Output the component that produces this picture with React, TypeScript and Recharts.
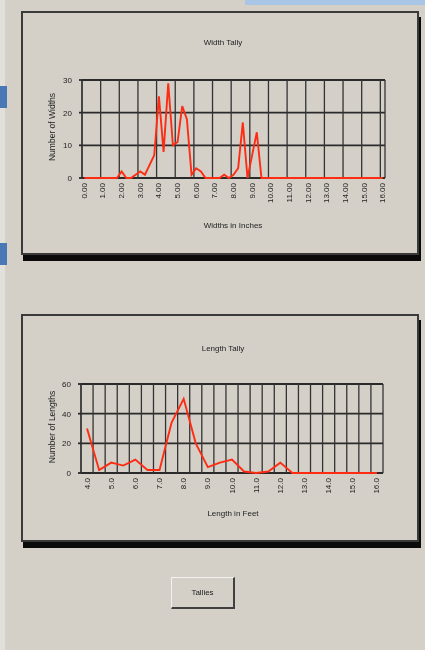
import React from "react"
import { LineChart, Line, XAxis, YAxis, CartesianGrid, ReferenceLine } from "recharts"

// widths in inches (1/4 inch tally bins)
const widthInches = [
  0, 0.25, 0.5, 0.75, 1, 1.25, 1.5, 1.75,
  2, 2.25, 2.5, 2.75, 3, 3.25, 3.5, 3.75,
  4, 4.25, 4.5, 4.75, 5, 5.25, 5.5, 5.75,
  6, 6.25, 6.5, 6.75, 7, 7.25, 7.5, 7.75,
  8, 8.25, 8.5, 8.75, 9, 9.25, 9.5, 9.75,
  10, 10.25, 10.5, 10.75, 11, 11.25, 11.5, 11.75,
  12, 12.25, 12.5, 12.75, 13, 13.25, 13.5, 13.75,
  14, 14.25, 14.5, 14.75, 15, 15.25, 15.5, 15.75,
  16,
]
const widthCounts = [
  0, 0, 0, 0, 0, 0, 0, 0,
  2, 0, 0, 1, 2, 1, 4, 7,
  25, 8, 29, 10, 11, 22, 18, 1,
  3, 2, 0, 0, 0, 0, 1, 0,
  1, 3, 17, 0, 7, 14, 0, 0,
  0, 0, 0, 0, 0, 0, 0, 0,
  0, 0, 0, 0, 0, 0, 0, 0,
  0, 0, 0, 0, 0, 0, 0, 0,
  0,
]
const widthTicks = [0, 1, 2, 3, 4, 5, 6, 7, 8, 9, 10, 11, 12, 13, 14, 15, 16]
const widthYTicks = [0, 10, 20, 30]

// lengths in feet (1/2 foot tally bins)
const lengthFeet = [
  4, 4.5, 5, 5.5, 6, 6.5, 7, 7.5, 8, 8.5, 9, 9.5, 10,
  10.5, 11, 11.5, 12, 12.5, 13, 13.5, 14, 14.5, 15, 15.5, 16,
]
const lengthCounts = [
  30, 2, 7, 5, 9, 2, 2, 34, 50, 20, 4, 7, 9,
  1, 0, 1, 7, 0, 0, 0, 0, 0, 0, 0, 0,
]
const lengthTicks = [4, 5, 6, 7, 8, 9, 10, 11, 12, 13, 14, 15, 16]
const lengthYTicks = [0, 20, 40, 60]

const widthData = widthInches.map((x, i) => ({ x, count: widthCounts[i] }))
const lengthData = lengthFeet.map((x, i) => ({ x, count: lengthCounts[i] }))

// gridlines sit on the bin edges, every 4th bin for widths, every bin for lengths
const widthGridX = widthInches.filter((_, i) => i % 4 === 0).map((w) => w - 0.125)
const lengthGridX = lengthFeet.map((f) => f - 0.25)

const FONT = "'Liberation Sans', Arial, sans-serif"
const BG = "#d4d0c8"
const RED = "#ff2c14"

const RotTick = (props: any) => {
  const { x, y, payload, digits } = props
  return (
    <text
      x={x}
      y={y}
      transform={`rotate(-90 ${x} ${y})`}
      textAnchor="end"
      dominantBaseline="central"
      fontSize={8}
      fontFamily={FONT}
      fill="#222"
    >
      {Number(payload.value).toFixed(digits)}
    </text>
  )
}

const yTickStyle = { fontSize: 8, fill: "#222", fontFamily: FONT }

function Tally(props: {
  data: { x: number; count: number }[]
  domain: [number, number]
  ticks: number[]
  gridX: number[]
  yTicks: number[]
  digits: number
  width: number
  height: number
  margin: { top: number; right: number; bottom: number; left: number }
}) {
  const { data, domain, ticks, gridX, yTicks, digits, width, height, margin } = props
  const yDomain: [number, number] = [yTicks[0], yTicks[yTicks.length - 1]]
  return (
    <LineChart width={width} height={height} data={data} margin={margin}>
      <CartesianGrid vertical={false} stroke="#2a2a2a" strokeWidth={1.8} />
      {gridX.map((g) => (
        <ReferenceLine key={g} x={g} stroke="#333" strokeWidth={1.3} ifOverflow="extendDomain" />
      ))}
      <XAxis
        type="number"
        dataKey="x"
        domain={domain}
        ticks={ticks}
        allowDataOverflow
        interval={0}
        axisLine={false}
        tickLine={false}
        tickSize={0}
        tickMargin={5}
        height={20}
        tick={<RotTick digits={digits} />}
      />
      <YAxis
        domain={yDomain}
        ticks={yTicks}
        width={40}
        tickSize={3}
        tickMargin={7}
        axisLine={{ stroke: "#333", strokeWidth: 1.3 }}
        tickLine={{ stroke: "#2a2a2a", strokeWidth: 1.8 }}
        tick={yTickStyle}
      />
      <YAxis
        yAxisId="r"
        orientation="right"
        domain={yDomain}
        ticks={yTicks}
        width={24}
        tickSize={4}
        tickMargin={1}
        axisLine={{ stroke: "#333", strokeWidth: 1.3 }}
        tickLine={{ stroke: "#2a2a2a", strokeWidth: 1.8 }}
        tick={yTickStyle}
      />
      <Line
        type="linear"
        dataKey="count"
        stroke={RED}
        strokeWidth={1.9}
        dot={false}
        isAnimationActive={false}
      />
    </LineChart>
  )
}

const txt = (left: number, top: number, size: number, rotate = false): React.CSSProperties => ({
  position: "absolute",
  left,
  top,
  transform: `translate(-50%, -50%)${rotate ? " rotate(-90deg)" : ""}`,
  fontSize: size,
  fontFamily: FONT,
  color: "#222",
  whiteSpace: "nowrap",
})

const panel = (top: number, height: number): React.CSSProperties => ({
  position: "absolute",
  left: 21,
  top,
  width: 398,
  height,
  boxSizing: "border-box",
  border: "2px solid #3a3a3a",
  boxShadow: "2px 6px 0 #0b0b0b",
  background: BG,
})

export default function App() {
  return (
    <div
      style={{
        position: "absolute",
        left: 0,
        top: 0,
        width: 425,
        height: 650,
        background: BG,
        overflow: "hidden",
        filter: "blur(0.4px)",
      }}
    >
      <div style={{ position: "absolute", left: 0, top: 0, width: 5, height: 650, background: "#e2e0da" }} />
      <div style={{ position: "absolute", left: 0, top: 86, width: 7, height: 22, background: "#4a78b4" }} />
      <div style={{ position: "absolute", left: 0, top: 243, width: 7, height: 22, background: "#4a78b4" }} />
      <div style={{ position: "absolute", left: 245, top: 0, width: 180, height: 5, background: "#a9c6e6" }} />

      <div style={panel(11, 244)} />
      <div style={{ position: "absolute", left: 21, top: 11 }}>
        <Tally
          data={widthData}
          domain={[-0.125, 16.125]}
          ticks={widthTicks}
          gridX={widthGridX}
          yTicks={widthYTicks}
          digits={2}
          width={398}
          height={244}
          margin={{ top: 69, right: 10, bottom: 57, left: 21 }}
        />
      </div>
      <div style={txt(223, 42, 8)}>Width Tally</div>
      <div style={txt(233, 225, 8)}>Widths in Inches</div>
      <div style={txt(52, 127, 8.5, true)}>Number of Widths</div>

      <div style={panel(314, 228)} />
      <div style={{ position: "absolute", left: 21, top: 314 }}>
        <Tally
          data={lengthData}
          domain={[3.75, 16.25]}
          ticks={lengthTicks}
          gridX={lengthGridX}
          yTicks={lengthYTicks}
          digits={1}
          width={398}
          height={228}
          margin={{ top: 70, right: 12, bottom: 49, left: 20 }}
        />
      </div>
      <div style={txt(223, 348, 8)}>Length Tally</div>
      <div style={txt(233, 513, 8)}>Length in Feet</div>
      <div style={txt(52, 427, 8.5, true)}>Number of Lengths</div>

      <div
        style={{
          position: "absolute",
          left: 171,
          top: 577,
          width: 64,
          height: 32,
          boxSizing: "border-box",
          borderTop: "1px solid #f4f2ee",
          borderLeft: "1px solid #f4f2ee",
          borderRight: "2px solid #404040",
          borderBottom: "2px solid #404040",
          display: "flex",
          alignItems: "center",
          justifyContent: "center",
          fontSize: 8,
          fontFamily: FONT,
          color: "#222",
        }}
      >
        Tallies
      </div>
    </div>
  )
}
